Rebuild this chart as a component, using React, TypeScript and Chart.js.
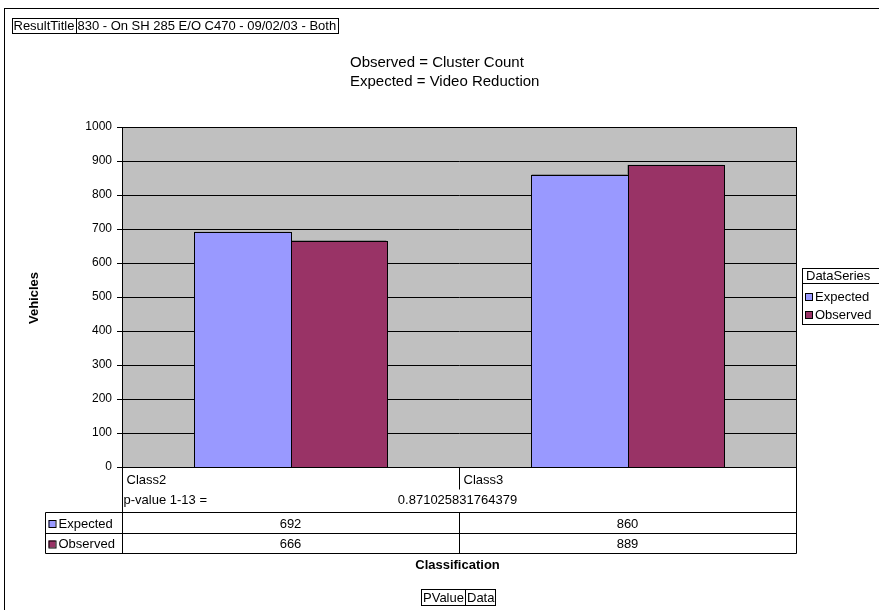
import React, { useEffect, useRef } from "react";
import { Chart, registerables } from "chart.js";

Chart.register(...registerables);

const categories = ["Class2", "Class3"];
const expectedValues = [692, 860];
const observedValues = [666, 889];
const seriesNames = ["Expected", "Observed"];
const seriesColors = ["#9999FF", "#993366"];
const yMax = 1000;
const yStep = 100;
const titleCells = ["ResultTitle", "830 - On SH 285 E/O C470 - 09/02/03 - Both"];
const subtitleLines = ["Observed = Cluster Count", "Expected = Video Reduction"];
const yAxisTitle = "Vehicles";
const xAxisTitle = "Classification";
const legendTitle = "DataSeries";
const pValueLabel = "p-value 1-13 =";
const pValueText = "0.871025831764379";
const footerCells = ["PValue", "Data"];

const FONT = '"Liberation Sans", Arial, sans-serif';

function line(ctx: CanvasRenderingContext2D, x1: number, y1: number, x2: number, y2: number) {
  ctx.beginPath();
  ctx.moveTo(x1, y1);
  ctx.lineTo(x2, y2);
  ctx.stroke();
}

const decorPlugin = {
  id: "decor",
  beforeDraw(chart: any) {
    const { ctx, chartArea: a, width, height } = chart;
    ctx.save();
    ctx.fillStyle = "#FFFFFF";
    ctx.fillRect(0, 0, width, height);
    ctx.strokeStyle = "#000";
    ctx.lineWidth = 1;
    ctx.strokeRect(4.5, 8.5, width + 20, height + 20);
    ctx.fillStyle = "#C0C0C0";
    ctx.fillRect(a.left, a.top, a.right - a.left, a.bottom - a.top);
    ctx.restore();
  },
  afterDatasetsDraw(chart: any) {
    const { ctx } = chart;
    ctx.save();
    chart.data.datasets.forEach((ds: any, di: number) => {
      const meta = chart.getDatasetMeta(di);
      meta.data.forEach((bar: any) => {
        const half = bar.width / 2;
        const x0 = Math.round(bar.x - half);
        const x1 = Math.round(bar.x + half);
        const y0 = Math.round(bar.y);
        const y1 = Math.round(bar.base);
        ctx.fillStyle = ds.backgroundColor;
        ctx.fillRect(x0, y0, x1 - x0, y1 - y0);
        ctx.strokeStyle = "#000";
        ctx.lineWidth = 1;
        ctx.strokeRect(x0 + 0.5, y0 + 0.5, x1 - x0, y1 - y0);
      });
    });
    ctx.restore();
  },
  afterDraw(chart: any) {
    const { ctx, chartArea: a, scales } = chart;
    const xs = scales.x;
    ctx.save();
    ctx.strokeStyle = "#000";
    ctx.fillStyle = "#000";
    ctx.lineWidth = 1;
    // plot border
    ctx.strokeRect(Math.round(a.left) + 0.5, Math.round(a.top) + 0.5, Math.round(a.right - a.left), Math.round(a.bottom - a.top));

    // title box
    ctx.font = `13px ${FONT}`;
    ctx.textBaseline = "middle";
    ctx.textAlign = "left";
    const tx = 12;
    const ty = 18;
    const th = 15;
    const w0 = ctx.measureText(titleCells[0]).width + 3;
    const w1 = ctx.measureText(titleCells[1]).width + 3;
    ctx.strokeRect(tx + 0.5, ty + 0.5, Math.round(w0 + w1), th);
    line(ctx, Math.round(tx + w0) + 0.5, ty, Math.round(tx + w0) + 0.5, ty + th);
    ctx.fillText(titleCells[0], tx + 1.5, ty + th / 2 + 1);
    ctx.fillText(titleCells[1], tx + w0 + 1.5, ty + th / 2 + 1);

    // subtitles
    ctx.font = `15px ${FONT}`;
    ctx.textAlign = "left";
    ctx.fillText(subtitleLines[0], 350, 63);
    ctx.fillText(subtitleLines[1], 350, 82);

    // y axis title
    ctx.save();
    ctx.font = `bold 13px ${FONT}`;
    ctx.textAlign = "center";
    ctx.translate(34, (a.top + a.bottom) / 2 + 1);
    ctx.rotate(-Math.PI / 2);
    ctx.fillText(yAxisTitle, 0, 0);
    ctx.restore();

    // legend
    const lx = 802, ly = 268;
    ctx.font = `13px ${FONT}`;
    ctx.textAlign = "left";
    ctx.strokeRect(lx + 0.5, ly + 0.5, 90, 56);
    line(ctx, lx, ly + 15.5, lx + 90, ly + 15.5);
    ctx.fillText(legendTitle, lx + 4, ly + 8.5);
    seriesNames.forEach((n, i) => {
      const cy = ly + 29 + i * 18;
      ctx.fillStyle = seriesColors[i];
      ctx.fillRect(lx + 3, cy - 4, 7, 7);
      ctx.strokeStyle = "#000";
      ctx.strokeRect(lx + 3.5, cy - 3.5, 7, 7);
      ctx.fillStyle = "#000";
      ctx.fillText(n, lx + 13, cy + 0.5);
    });

    // data table
    const left = Math.round(a.left) + 0.5;
    const right = Math.round(a.right) + 0.5;
    const top = Math.round(a.bottom) + 0.5;
    const mid = Math.round((a.left + a.right) / 2) + 0.5;
    const r2 = top + 45;
    const r3 = top + 66;
    const r4 = top + 86;
    const lcol = 45.5;
    line(ctx, left, top, left, r4);
    line(ctx, right, top, right, r4);
    line(ctx, mid, top, mid, top + 22);
    line(ctx, mid, r2, mid, r4);
    line(ctx, lcol, r2, right, r2);
    line(ctx, lcol, r3, right, r3);
    line(ctx, lcol, r4, right, r4);
    line(ctx, lcol, r2, lcol, r4);
    ctx.font = `13px ${FONT}`;
    ctx.textAlign = "left";
    categories.forEach((c, i) => {
      const cl = i === 0 ? left : mid;
      ctx.fillText(c, cl + 4, top + 13);
    });
    ctx.fillText(pValueLabel, left + 1, top + 33);
    ctx.textAlign = "center";
    ctx.fillText(pValueText, mid - 2, top + 33);
    const rows = [expectedValues, observedValues];
    rows.forEach((vals, ri) => {
      const cy = (ri === 0 ? (r2 + r3) / 2 : (r3 + r4) / 2) + 1;
      ctx.textAlign = "left";
      ctx.fillStyle = seriesColors[ri];
      ctx.fillRect(lcol + 3, cy - 4, 7, 7);
      ctx.strokeRect(lcol + 3.5, cy - 3.5, 7, 7);
      ctx.fillStyle = "#000";
      ctx.fillText(seriesNames[ri], lcol + 13, cy);
      ctx.textAlign = "center";
      vals.forEach((v, ci) => {
        ctx.fillText(String(v), xs.getPixelForValue(ci), cy);
      });
    });

    // x axis title
    ctx.font = `bold 13px ${FONT}`;
    ctx.textAlign = "center";
    ctx.fillText(xAxisTitle, mid - 2, 565);

    // footer box
    ctx.font = `13px ${FONT}`;
    const f0 = Math.round(ctx.measureText(footerCells[0]).width + 3);
    const f1 = Math.round(ctx.measureText(footerCells[1]).width + 3);
    const fx = Math.round(mid - 2 - (f0 + f1) / 2) + 0.5;
    const fy = 589.5;
    ctx.strokeRect(fx, fy, f0 + f1, 16);
    line(ctx, fx + f0, fy, fx + f0, fy + 16);
    ctx.textAlign = "left";
    ctx.fillText(footerCells[0], fx + 1.5, fy + 8.5);
    ctx.fillText(footerCells[1], fx + f0 + 1.5, fy + 8.5);
    ctx.restore();
  },
};

export default function App() {
  const ref = useRef<HTMLCanvasElement | null>(null);
  useEffect(() => {
    if (!ref.current) return;
    const chart = new Chart(ref.current, {
      type: "bar",
      data: {
        labels: categories,
        datasets: [
          { label: seriesNames[0], data: expectedValues, backgroundColor: seriesColors[0], borderColor: "#000", borderWidth: 1 },
          { label: seriesNames[1], data: observedValues, backgroundColor: seriesColors[1], borderColor: "#000", borderWidth: 1 },
        ],
      },
      options: {
        responsive: false,
        animation: false,
        devicePixelRatio: 1,
        layout: { padding: { left: 0, top: 127, right: 83, bottom: 143 } },
        plugins: { legend: { display: false }, tooltip: { enabled: false }, title: { display: false } },
        datasets: { bar: { categoryPercentage: 0.57, barPercentage: 1 } },
        scales: {
          x: { display: false },
          y: {
            min: 0,
            max: yMax,
            ticks: {
              stepSize: yStep,
              color: "#000",
              font: { family: FONT, size: 12 },
              padding: 5,
              callback: (v: any) => String(v),
            },
            grid: { color: "#000", tickColor: "#000", tickLength: 5, drawTicks: true },
            border: { color: "#000" },
            afterFit: (s: any) => {
              s.width = 122;
            },
          },
        },
      },
      plugins: [decorPlugin],
    } as any);
    return () => chart.destroy();
  }, []);
  return (
    <div style={{ position: "absolute", left: 0, top: 0 }}>
      <canvas ref={ref} width={879} height={610} style={{ display: "block" }} />
    </div>
  );
}
